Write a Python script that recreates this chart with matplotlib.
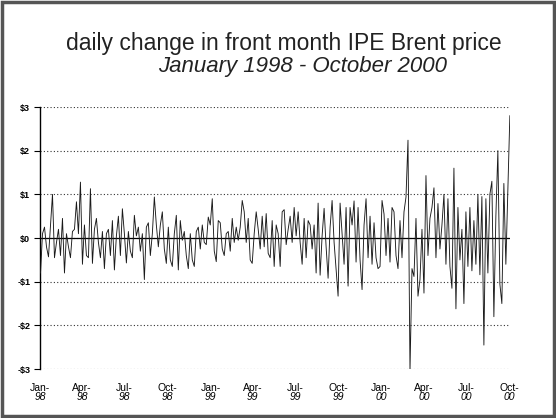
import numpy as np
import pandas as pd
import matplotlib
matplotlib.use('Agg')
import matplotlib.pyplot as plt
from matplotlib.patches import Rectangle

plt.rcParams['font.family'] = ['Liberation Sans', 'DejaVu Sans']

# daily change in front month IPE Brent, $ per barrel
chg = [
    -0.8, 0.1, 0.25, -0.2, -0.43, 0.3, 1.0, -0.45, -0.1, 0.2,
    -0.4, 0.45, -0.8, 0.1, -0.2, -0.45, 0.15, 0.2, 0.83, 0.1,
    1.28, -0.6, 0.3, -0.4, -0.45, 1.13, -0.58, 0.2, 0.45, -0.1,
    -0.45, 0.15, -0.7, 0.1, 0.2, -0.4, 0.4, -0.73, 0.05, 0.5,
    -0.4, 0.67, 0.1, -0.57, 0.15, -0.3, -0.45, 0.52, 0.05, 0.25,
    -0.3, 0.1, -0.95, 0.25, 0.35, -0.4, 0.1, 0.94, 0.3, -0.2,
    0.3, 0.6, -0.25, -0.58, 0.25, -0.5, -0.65, 0.1, 0.52, -0.73,
    0.4, -0.05, 0.15, -0.4, -0.7, 0.1, -0.5, -0.65, 0.15, 0.25,
    -0.25, 0.3, -0.1, -0.15, 0.48, 0.3, 0.9, -0.3, -0.54, 0.4,
    0.35, -0.25, -0.4, 0.1, 0.15, -0.3, 0.45, -0.1, 0.25, -0.05,
    0.25, 0.86, 0.6, -0.1, 0.45, -0.5, -0.58, 0.1, 0.6, 0.2,
    -0.25, 0.5, -0.2, 0.56, -0.35, -0.45, 0.4, -0.65, 0.3, 0.1,
    -0.65, 0.6, 0.65, -0.15, 0.2, 0.5, -0.1, 0.7, 0.05, 0.6,
    -0.1, -0.6, 0.45, -0.45, 0.4, 0.3, -0.25, 0.3, -0.8, 0.8,
    -0.85, 0.05, 0.68, -0.2, -0.92, 0.25, 0.86, -0.1, -0.7, -1.33,
    0.8, 0.1, -0.6, 0.7, -1.1, 0.7, 0.3, 0.85, -0.55, 0.7,
    -0.5, -1.18, 0.3, 0.9, -0.45, 0.5, -0.6, 0.35, -0.45, -0.7,
    -0.65, 0.86, 0.55, -0.4, 0.45, -0.55, 0.7, 0.6, -0.4, -0.7,
    0.4, -0.45, 0.6, 0.94, 2.24, -3.05, -0.7, -0.88, 0.45, -1.33,
    -0.95, 0.2, -1.26, 1.43, -0.4, 0.45, 0.7, 1.15, -0.45, 0.79,
    -0.25, 0.3, 1.0, -0.6, 0.9, -0.65, -1.15, 1.6, -1.62, 0.7,
    -0.5, 0.2, -1.5, 0.6, -0.65, 0.7, -0.75, 0.4, -0.6, 1.0,
    -0.84, 0.95, -2.45, 0.9, -0.8, 1.0, 1.3, -1.8, 0.5, 2.0,
    -1.05, -1.5, 1.25, -0.6, 1.1, 2.8,
]
start, end = '1998-01-02', '2000-10-02'

tick_months = ['Jan-', 'Apr-', 'Jul-', 'Oct-'] * 3
tick_years = ['98'] * 4 + ['99'] * 4 + ['00'] * 4
y_ticks = [3, 2, 1, 0, -1, -2, -3]
y_labels = ['$3', '$2', '$1', '$0', '-$1', '-$2', '-$3']

dates = pd.date_range(start, end, periods=len(chg))
qdates = pd.date_range('1998-01-01', periods=len(tick_months), freq='QS')

fig = plt.figure(figsize=(5.56, 4.18), dpi=100)
ax = fig.add_axes([0.072, 0.117, 0.845, 0.627])

# grid lines and zero axis
for v in y_ticks:
    ax.axhline(v, color='#333333', lw=0.8, ls=(0, (1, 2)), zorder=1)
ax.axhline(0, color='black', lw=0.9, zorder=2)

ax.plot(dates, chg, color='#1a1a1a', lw=0.65, zorder=3)

ax.set_xlim(dates[0], dates[-1])
ax.set_ylim(-3, 3)
for s in ['top', 'right', 'bottom']:
    ax.spines[s].set_visible(False)
ax.spines['left'].set_linewidth(1.0)

ax.set_yticks(y_ticks)
ax.set_yticklabels(y_labels, fontsize=6.5, fontweight='bold')
ax.tick_params(axis='y', length=4, width=0.8, pad=3)

ax.set_xticks(qdates)
ax.set_xticklabels(tick_months, fontsize=7.5)
ax.tick_params(axis='x', length=0, pad=10)
for d, yr in zip(qdates, tick_years):
    ax.text(d, -0.107, yr, transform=ax.get_xaxis_transform(), fontsize=7.5,
            style='italic', ha='center', va='center')

fig.text(0.51, 0.897, 'daily change in front month IPE Brent price',
         fontsize=16.5, ha='center', va='center', color='#222222')
fig.text(0.545, 0.842, 'January 1998 - October 2000', fontsize=16,
         style='italic', ha='center', va='center', color='#222222')

# frame around whole picture
fig.patches.append(Rectangle((0.004, 0.005), 0.992, 0.99, transform=fig.transFigure,
                             fill=False, edgecolor='#555555', lw=2.5))

fig.savefig('out.png', dpi=100)
